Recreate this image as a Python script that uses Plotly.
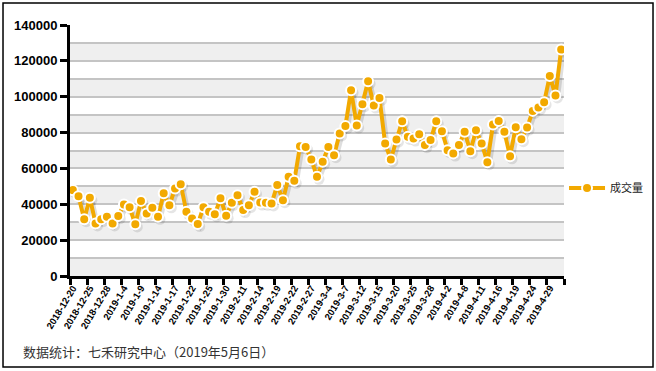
import plotly.graph_objects as go

tick_labels = ["2018-12-20", "2018-12-25", "2018-12-28", "2019-1-4", "2019-1-9", "2019-1-14",
               "2019-1-17", "2019-1-22", "2019-1-25", "2019-1-30", "2019-2-11", "2019-2-14",
               "2019-2-19", "2019-2-22", "2019-2-27", "2019-3-4", "2019-3-7", "2019-3-12",
               "2019-3-15", "2019-3-20", "2019-3-25", "2019-3-28", "2019-4-2", "2019-4-8",
               "2019-4-11", "2019-4-16", "2019-4-19", "2019-4-24", "2019-4-29"]

volume = [47900, 44500, 31700, 43600, 29300, 31700, 33000, 29300, 33400, 39900,
          38300, 28800, 41900, 34900, 38000, 33000, 46200, 39400, 48800, 51200,
          35800, 32100, 29000, 38300, 35800, 34400, 43300, 33600, 40800, 45100,
          36800, 39500, 47000, 41000, 40800, 40500, 50700, 42300, 55300, 53100,
          72400, 71900, 65000, 55300, 63700, 72000, 67400, 79500, 83600, 103600,
          83900, 95800, 108600, 95100, 99300, 73900, 65000, 76100, 86300, 77600,
          76700, 79100, 73000, 75800, 86300, 80800, 70200, 68300, 73000, 80400,
          69600, 81300, 73900, 63500, 84500, 86500, 80400, 66800, 83000, 76300,
          82800, 92100, 94000, 96900, 111600, 100700, 126300]

series_name = "成交量"
footnote = "数据统计：七禾研究中心（2019年5月6日）"

y_max = 140000
band = 10000
label_step = 3

orange = "#F2A900"
x = list(range(len(volume)))

fig = go.Figure()

# alternating background bands
shapes = []
for k in range(0, y_max // band):
    if k % 2 == 0:
        shapes.append(dict(type="rect", xref="paper", yref="y", x0=0, x1=1,
                           y0=k * band, y1=(k + 1) * band,
                           fillcolor="#EFEFEF", line=dict(width=0), layer="below"))
# outer frame
shapes.append(dict(type="rect", xref="paper", yref="paper",
                   x0=-0.1356, x1=1.1802, y0=-0.3625, y1=1.0876,
                   line=dict(color="black", width=1.5), fillcolor="rgba(0,0,0,0)"))

# shadow
fig.add_trace(go.Scatter(
    x=[v + 0.35 for v in x], y=[v - 1400 for v in volume], mode="lines+markers",
    line=dict(color="rgba(0,0,0,0.13)", width=5),
    marker=dict(size=11, color="rgba(0,0,0,0.10)", line=dict(width=0)),
    hoverinfo="skip", showlegend=False))

fig.add_trace(go.Scatter(
    x=x, y=volume, mode="lines+markers", name=series_name,
    line=dict(color=orange, width=4),
    marker=dict(size=10, color=orange, line=dict(color="white", width=2)),
))

fig.update_layout(
    width=656, height=371,
    margin=dict(l=70, r=92, t=25, b=95, autoexpand=False),
    paper_bgcolor="white", plot_bgcolor="white",
    font=dict(family="Liberation Sans, Arial, sans-serif", color="black"),
    shapes=shapes,
    showlegend=True,
    legend=dict(xref="container", yref="container", x=0.8598, xanchor="left",
                y=0.493, yanchor="middle",
                font=dict(size=11, family="Noto Sans CJK SC, sans-serif", color="#222"),
                bgcolor="rgba(0,0,0,0)", itemwidth=36),
    annotations=[dict(text=footnote, xref="paper", yref="paper", x=-0.1,
                      y=-0.3,
                      xanchor="left", yanchor="middle", showarrow=False,
                      font=dict(size=13, color="#333", family="Noto Sans CJK SC, sans-serif"))],
)

fig.update_xaxes(
    range=[-0.5, len(volume) - 0.5],
    tickmode="array",
    tickvals=[i * label_step for i in range(len(tick_labels))],
    ticktext=tick_labels,
    tickangle=-59,
    ticks="",
    tickfont=dict(size=9.5, family="Liberation Sans, Arial, sans-serif", weight="bold"),
    showgrid=False, zeroline=False,
    showline=True, linecolor="black", linewidth=3,
    minor=dict(tick0=-0.5, dtick=label_step, ticks="outside", ticklen=6,
               tickwidth=3, tickcolor="black", showgrid=False),
    automargin=False,
)

fig.update_yaxes(
    range=[0, y_max],
    tickmode="linear", tick0=0, dtick=20000,
    tickformat="d",
    ticks="outside", ticklen=7, tickwidth=3, tickcolor="black",
    tickfont=dict(size=13, family="Liberation Sans, Arial, sans-serif", weight="bold"),
    showgrid=True, gridcolor="#C4C4C4", gridwidth=1.5,
    minor=dict(dtick=band, showgrid=True, gridcolor="#C4C4C4", gridwidth=1.5),
    zeroline=False,
    showline=True, linecolor="black", linewidth=3,
    automargin=False,
)

fig.write_html("out.html",
               config={"displayModeBar": False},
               post_script="document.body.style.margin='0';document.body.style.padding='0';document.body.style.overflow='hidden';")
